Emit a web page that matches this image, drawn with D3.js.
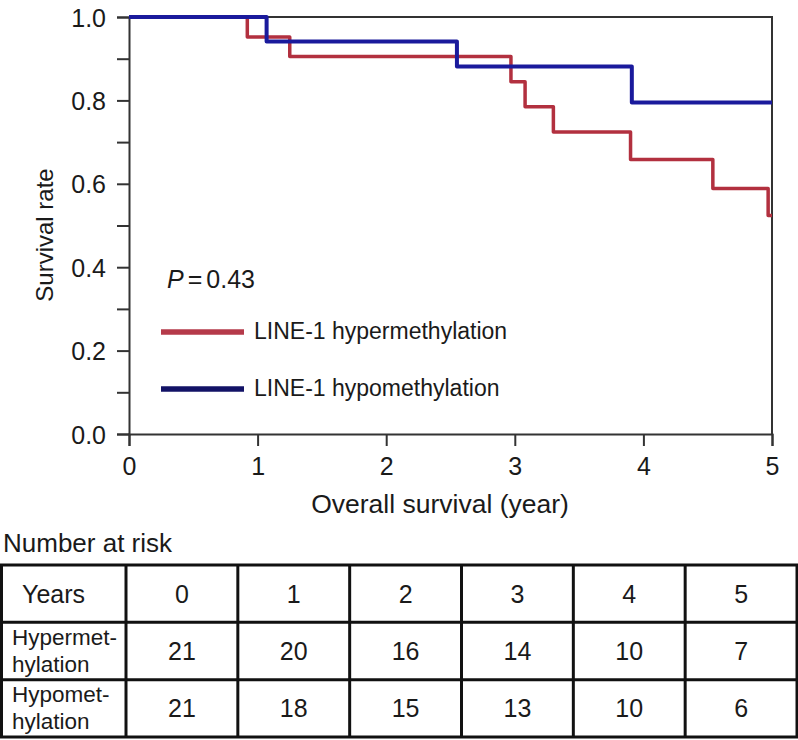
<!DOCTYPE html>
<html>
<head>
<meta charset="utf-8">
<script src="https://cdn.jsdelivr.net/npm/d3@7"></script>
<style>
  html, body { margin: 0; padding: 0; background: #fff; }
  svg { display: block; }
  text { font-family: "Liberation Sans", Arial, Helvetica, sans-serif; fill: #1a1a1a; }
</style>
</head>
<body>
<svg id="chart" width="798" height="740"></svg>
<script>
// ---- data ----
const hyperTimes = [0, 0.92, 1.25, 2.97, 3.08, 3.30, 3.90, 4.54, 4.97, 5];
const hyperSurv  = [1.0, 0.952, 0.905, 0.845, 0.785, 0.724, 0.658, 0.589, 0.524, 0.524];
const hypoTimes  = [0, 1.07, 2.55, 3.91, 5];
const hypoSurv   = [1.0, 0.941, 0.881, 0.795, 0.795];
const xTicks = [0, 1, 2, 3, 4, 5];
const yTicksMajor = [0.0, 0.2, 0.4, 0.6, 0.8, 1.0];
const yTicksMinor = [0.1, 0.3, 0.5, 0.7, 0.9];
const seriesNames = ["LINE-1 hypermethylation", "LINE-1 hypomethylation"];
const seriesColors = ["#b2303f", "#1a1a9c"];
const legendColors = ["#b53a4a", "#121266"];
const pValue = "0.43";
const tableYears = [0, 1, 2, 3, 4, 5];
const rowLabels = [["Hypermet-", "hylation"], ["Hypomet-", "hylation"]];
const hyperAtRisk = [21, 20, 16, 14, 10, 7];
const hypoAtRisk  = [21, 18, 15, 13, 10, 6];

// ---- layout ----
const svg = d3.select("#chart");
const pLeft = 129, pRight = 772, pTop = 17, pBottom = 434;
const x = d3.scaleLinear().domain([0, 5]).range([pLeft, pRight]);
const y = d3.scaleLinear().domain([0, 1]).range([pBottom, pTop]);

// frame (top and right)
svg.append("path")
  .attr("d", `M${pLeft},${pTop}H${pRight}V${pBottom}`)
  .attr("fill", "none").attr("stroke", "#333").attr("stroke-width", 2);

// y axis
const yAxis = svg.append("g").attr("transform", `translate(${pLeft},0)`)
  .call(d3.axisLeft(y).tickValues(yTicksMajor.concat(yTicksMinor)).tickSize(12)
    .tickFormat(d => yTicksMajor.some(v => Math.abs(v - d) < 1e-9) ? d3.format(".1f")(d) : ""));
yAxis.select(".domain").attr("stroke", "#333").attr("stroke-width", 2);
yAxis.selectAll(".tick line").attr("stroke", "#333").attr("stroke-width", 2);
yAxis.selectAll(".tick text").attr("font-size", 25).attr("x", -23).attr("dy", "0.36em")
  .style("font-family", "'Liberation Sans', Arial, sans-serif").attr("fill", "#1a1a1a");

// x axis
const xAxis = svg.append("g").attr("transform", `translate(0,${pBottom})`)
  .call(d3.axisBottom(x).tickValues(xTicks).tickSize(12).tickFormat(d3.format("d")));
xAxis.select(".domain").attr("stroke", "#333").attr("stroke-width", 2);
xAxis.selectAll(".tick line").attr("stroke", "#333").attr("stroke-width", 2);
xAxis.selectAll(".tick text").attr("font-size", 25).attr("y", 23).attr("dy", "0.71em")
  .style("font-family", "'Liberation Sans', Arial, sans-serif").attr("fill", "#1a1a1a");

// axis titles
svg.append("text").attr("x", 440).attr("y", 513).attr("text-anchor", "middle")
  .attr("font-size", 26.5).text("Overall survival (year)");
svg.append("text").attr("transform", "translate(53,235) rotate(-90)").attr("text-anchor", "middle")
  .attr("font-size", 24).text("Survival rate");

// curves
const line = d3.line().x(d => x(d[0])).y(d => y(d[1])).curve(d3.curveStepAfter);
const hyperData = hyperTimes.map((t, i) => [t, hyperSurv[i]]);
const hypoData = hypoTimes.map((t, i) => [t, hypoSurv[i]]);
svg.append("path").datum(hyperData).attr("d", line)
  .attr("fill", "none").attr("stroke", seriesColors[0]).attr("stroke-width", 3.5)
  .attr("stroke-linejoin", "round");
svg.append("path").datum(hypoData).attr("d", line)
  .attr("fill", "none").attr("stroke", seriesColors[1]).attr("stroke-width", 4)
  .attr("stroke-linejoin", "round");

// P value
const pt = svg.append("text").attr("x", 167).attr("y", 288).attr("font-size", 25);
pt.append("tspan").attr("font-style", "italic").text("P");
pt.append("tspan").attr("dx", 4).text("=");
pt.append("tspan").attr("dx", 4).text(pValue);

// legend
const legY = [332, 389];
seriesNames.forEach((name, i) => {
  svg.append("line").attr("x1", 161).attr("x2", 244).attr("y1", legY[i]).attr("y2", legY[i])
    .attr("stroke", legendColors[i]).attr("stroke-width", 5.5);
  svg.append("text").attr("x", 254).attr("y", legY[i] + 6.5).attr("font-size", 23).text(name);
});

// number at risk
svg.append("text").attr("x", 3).attr("y", 552).attr("font-size", 26).text("Number at risk");

const colX = d3.scaleBand().domain(tableYears).range([126, 797]);
const rowY = d3.scaleBand().domain(["years", "hyper", "hypo"]).range([565, 737]);
const tg = svg.append("g");
tg.append("rect").attr("x", 1.5).attr("y", 565).attr("width", 795.5).attr("height", 172)
  .attr("fill", "none").attr("stroke", "#111").attr("stroke-width", 3);
tableYears.forEach(d => {
  tg.append("line").attr("x1", colX(d)).attr("x2", colX(d)).attr("y1", 565).attr("y2", 737)
    .attr("stroke", "#111").attr("stroke-width", 3);
});
["hyper", "hypo"].forEach(r => {
  tg.append("line").attr("x1", 1.5).attr("x2", 797).attr("y1", rowY(r)).attr("y2", rowY(r))
    .attr("stroke", "#111").attr("stroke-width", 3);
});
// header row
tg.append("text").attr("x", 22).attr("y", rowY("years") + rowY.bandwidth() / 2 + 9)
  .attr("font-size", 25).text("Years");
tableYears.forEach(d => {
  tg.append("text").attr("x", colX(d) + colX.bandwidth() / 2).attr("y", rowY("years") + rowY.bandwidth() / 2 + 9)
    .attr("text-anchor", "middle").attr("font-size", 25).text(d);
});
// data rows
[["hyper", hyperAtRisk, rowLabels[0]], ["hypo", hypoAtRisk, rowLabels[1]]].forEach(([r, vals, lab]) => {
  const cy = rowY(r) + rowY.bandwidth() / 2;
  tg.append("text").attr("x", 12).attr("y", cy - 6).attr("font-size", 22.5).text(lab[0]);
  tg.append("text").attr("x", 12).attr("y", cy + 21).attr("font-size", 22.5).text(lab[1]);
  vals.forEach((v, i) => {
    tg.append("text").attr("x", colX(tableYears[i]) + colX.bandwidth() / 2).attr("y", cy + 9)
      .attr("text-anchor", "middle").attr("font-size", 25).text(v);
  });
});
</script>
</body>
</html>
